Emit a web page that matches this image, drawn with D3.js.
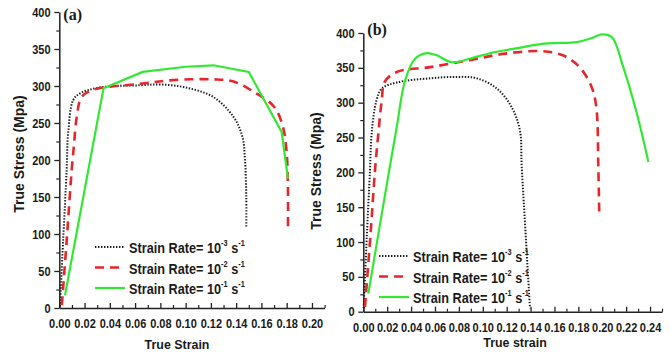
<!DOCTYPE html>
<html>
<head>
<meta charset="utf-8">
<script src="https://cdn.jsdelivr.net/npm/d3@7"></script>
<style>
  body { margin: 0; background: #fff; }
  text { font-family: "Liberation Sans", Arial, sans-serif; font-weight: bold; fill: #1a1a1a; }
</style>
</head>
<body>
<div id="chart"></div>
<script>
// [true strain, true stress]
const slowA = [[0.0005, 2], [0.003, 90], [0.0058, 186], [0.007, 236], [0.011, 281], [0.0164, 290], [0.032, 298], [0.064, 301], [0.08, 302], [0.10, 298], [0.122, 285], [0.138, 258], [0.145, 231], [0.147, 200], [0.148, 150], [0.148, 110]];
const midA = [[0.002, 4], [0.006, 95], [0.0098, 186], [0.0116, 220], [0.0138, 258], [0.0177, 285], [0.027, 295], [0.064, 303], [0.09, 308], [0.122, 309], [0.138, 306], [0.154, 292], [0.17, 272], [0.177, 245], [0.18, 209], [0.181, 160], [0.181, 110]];
const fastA = [[0.0045, 17], [0.035, 297], [0.066, 319], [0.10, 326], [0.122, 328], [0.15, 319], [0.176, 238], [0.181, 175]];

const slowB = [[0.0003, 5], [0.003, 110], [0.0056, 203], [0.007, 256], [0.011, 303], [0.0154, 320], [0.028, 329], [0.056, 335], [0.078, 337], [0.095, 335], [0.112, 320], [0.124, 294], [0.131, 261], [0.1326, 208], [0.1395, 5]];
const midB = [[0.0014, 7], [0.006, 110], [0.0098, 203], [0.0126, 256], [0.0154, 303], [0.018, 330], [0.028, 344], [0.056, 351], [0.089, 361], [0.117, 370], [0.148, 374], [0.167, 368], [0.181, 351], [0.191, 323], [0.195, 294], [0.1967, 208], [0.1975, 138]];
const fastB = [[0.0042, 26], [0.021, 196], [0.028, 265], [0.035, 332], [0.0433, 363], [0.053, 371], [0.0614, 368], [0.074, 358], [0.089, 363], [0.106, 371], [0.128, 378], [0.1535, 385], [0.1786, 387], [0.19, 392], [0.1995, 398], [0.208, 394], [0.2176, 351], [0.229, 284], [0.2386, 215]];

const rateExps = ["-3", "-2", "-1"];
const stressTicks = [0, 50, 100, 150, 200, 250, 300, 350, 400];
const strainTicksA = [0, 0.02, 0.04, 0.06, 0.08, 0.10, 0.12, 0.14, 0.16, 0.18, 0.20];
const strainTicksB = [0, 0.02, 0.04, 0.06, 0.08, 0.10, 0.12, 0.14, 0.16, 0.18, 0.20, 0.22, 0.24];

const styles = [
  { stroke: "#1b1b1b", width: 2, dash: "1.4,1.6" },
  { stroke: "#e5262c", width: 2.6, dash: "9,6" },
  { stroke: "#33e833", width: 2.2, dash: null }
];

const svg = d3.select("#chart").append("svg")
  .attr("width", 671)
  .attr("height", 355);

const panels = [
  { tag: "(a)", series: [slowA, midA, fastA], smooth: [true, true, false],
    x0: 59.3, x1: 324.6, xMax: 0.21, y0: 308, y1: 12, xTicks: strainTicksA,
    xTitle: "True Strain", xTitleX: 177, xTitleY: 349, yTitleX: 24, yTitleY: 154,
    tagY: 20, legendX: 95, legendY: 247 },
  { tag: "(b)", series: [slowB, midB, fastB], smooth: [true, true, true],
    x0: 363.3, x1: 662, xMax: 0.25, y0: 311.7, y1: 33, xTicks: strainTicksB,
    xTitle: "True strain", xTitleX: 515, xTitleY: 347, yTitleX: 321, yTitleY: 171,
    tagY: 35, legendX: 379, legendY: 256 }
];

panels.forEach(p => {
  const x = d3.scaleLinear().domain([0, p.xMax]).range([p.x0, p.x1]);
  const y = d3.scaleLinear().domain([0, 400]).range([p.y0, p.y1]);
  const g = svg.append("g");

  // minor ticks
  const minorY = d3.range(25, 400, 50);
  g.append("g")
    .attr("transform", `translate(${p.x0},0)`)
    .call(d3.axisLeft(y).tickValues(minorY).tickSize(3).tickFormat(""))
    .call(a => a.select(".domain").remove())
    .call(a => a.selectAll("line").attr("stroke", "#222").attr("stroke-width", 1.2));
  const minorX = d3.range(0.01, p.xMax + 0.001, 0.02);
  g.append("g")
    .attr("transform", `translate(0,${p.y0})`)
    .call(d3.axisBottom(x).tickValues(minorX).tickSize(-3).tickFormat(""))
    .call(a => a.select(".domain").remove())
    .call(a => a.selectAll("line").attr("stroke", "#222").attr("stroke-width", 1.2));

  const yAxisG = g.append("g")
    .attr("transform", `translate(${p.x0},0)`)
    .call(d3.axisLeft(y).tickValues(stressTicks).tickSize(5).tickSizeOuter(0).tickPadding(5));
  const xAxisG = g.append("g")
    .attr("transform", `translate(0,${p.y0})`)
    .call(d3.axisBottom(x).tickValues(p.xTicks).tickSize(-5).tickSizeOuter(0).tickPadding(11)
      .tickFormat(d3.format(".2f")));

  [yAxisG, xAxisG].forEach(a => {
    a.select(".domain").attr("stroke", "#222").attr("stroke-width", 1.5);
    a.selectAll(".tick line").attr("stroke", "#222").attr("stroke-width", 1.3);
    a.selectAll("text")
      .style("font-size", "12.5px")
      .style("font-weight", "bold")
      .attr("transform", "scale(0.88,1)")
      .attr("fill", "#1a1a1a");
  });

  // curves
  p.series.forEach((s, i) => {
    const line = d3.line()
      .x(d => x(d[0]))
      .y(d => y(d[1]))
      .curve(p.smooth[i] ? d3.curveCatmullRom.alpha(0.5) : d3.curveLinear);
    g.append("path")
      .datum(s)
      .attr("fill", "none")
      .attr("stroke", styles[i].stroke)
      .attr("stroke-width", styles[i].width)
      .attr("stroke-dasharray", styles[i].dash)
      .attr("d", line);
  });

  // titles
  g.append("text")
    .attr("transform", `translate(${p.xTitleX},${p.xTitleY}) scale(0.92,1)`)
    .attr("text-anchor", "middle").style("font-size", "13.5px")
    .text(p.xTitle);
  g.append("text")
    .attr("transform", `translate(${p.yTitleX},${p.yTitleY}) rotate(-90)`)
    .attr("text-anchor", "middle").style("font-size", "14px")
    .text("True Stress (Mpa)");
  g.append("text")
    .attr("x", p.x0 + 4).attr("y", p.tagY)
    .style("font-family", "'Liberation Serif', 'Times New Roman', serif")
    .style("font-size", "16px")
    .text(p.tag);

  // legend
  rateExps.forEach((e, i) => {
    const ly = p.legendY + i * 20.5;
    g.append("line")
      .attr("x1", p.legendX).attr("x2", p.legendX + 30)
      .attr("y1", ly).attr("y2", ly)
      .attr("stroke", styles[i].stroke)
      .attr("stroke-width", styles[i].width)
      .attr("stroke-dasharray", styles[i].dash);
    const t = g.append("text")
      .attr("transform", `translate(${p.legendX + 34},${ly + 6}) scale(0.82,1)`)
      .style("font-size", "15.5px");
    t.append("tspan").text("Strain Rate= 10");
    t.append("tspan").attr("dy", -7).style("font-size", "9px").text(e);
    t.append("tspan").attr("dy", 7).text(" s");
    t.append("tspan").attr("dy", -7).style("font-size", "9px").text("-1");
  });
});
</script>
</body>
</html>
